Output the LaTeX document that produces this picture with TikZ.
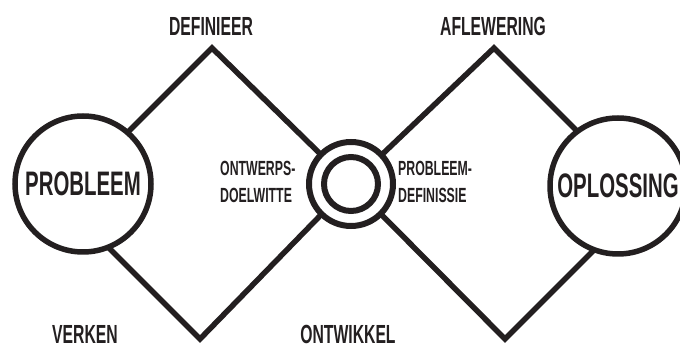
\documentclass[tikz,border=0pt]{standalone}
\usepackage{fontspec}
\newfontfamily\condfont{Liberation Sans}[UprightFont=* Bold, FakeStretch=0.6]
\usetikzlibrary{backgrounds}
\definecolor{ink}{RGB}{35,31,32}

\begin{document}
\begin{tikzpicture}[x=1pt, y=-1pt,
  ln/.style={line width=5.5pt, draw=ink},
  big/.style={circle, draw=ink, line width=5.5pt, fill=white, text=ink, minimum size=136pt, inner sep=0pt, font=\condfont\fontsize{34}{34}\selectfont},
  ring/.style={circle, draw=ink, line width=6pt, fill=white, inner sep=0pt},
  lbl/.style={inner sep=0pt, text=ink, font=\condfont\fontsize{26.2}{26.2}\selectfont},
  sml/.style={inner sep=0pt, anchor=west, align=left, text=ink, font=\condfont\fontsize{20.5}{27}\selectfont}
]
\clip (0,0) rectangle (680,347);
% circles
\node[big] (prob) at (83,184) {PROBLEEM};
\node[big] (opl) at (618,186) {OPLOSSING};
\node[ring, minimum size=84pt] (mid) at (351,184) {};
\node[ring, minimum size=54pt] (midin) at (mid) {};
% diamond tips and line ends
\coordinate (dtop) at (212,48);
\coordinate (dbot) at (200,339);
\coordinate (atop) at (494,48);
\coordinate (abot) at (505,339);
\coordinate (pl1) at (92,168);
\coordinate (pl2) at (80,219);
\coordinate (ol1) at (614,168);
\coordinate (ol2) at (625,219);
\begin{scope}[on background layer]
\draw[ln] (pl1) -- (dtop) -- (mid.center) -- (atop) -- (ol1);
\draw[ln] (pl2) -- (dbot) -- (mid.center) -- (abot) -- (ol2);
\end{scope}
% labels
\node[lbl] (defn) at (211,26) {DEFINIEER};
\node[lbl] (aflw) at (493,26) {AFLEWERING};
\node[lbl] (verk) at (85,334) {VERKEN};
\node[lbl] (ontw) at (348,334) {ONTWIKKEL};
\node[sml] (doel) at (220,182) {ONTWERPS-\\DOELWITTE};
\node[sml] (pdef) at (398,182) {PROBLEEM-\\DEFINISSIE};
\end{tikzpicture}
\end{document}
